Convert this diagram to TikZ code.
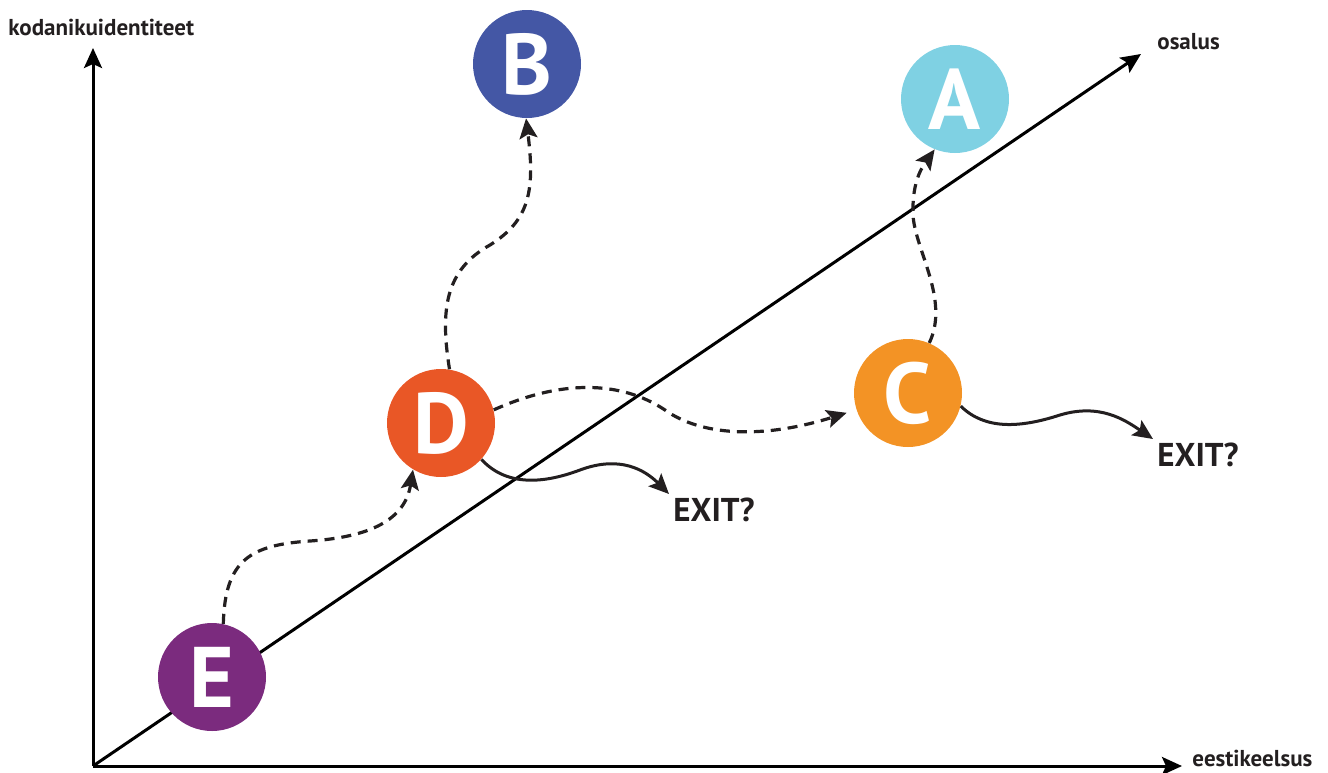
\documentclass[tikz,border=0pt]{standalone}
\usepackage{fontspec}
\setmainfont{PT Sans}
\usetikzlibrary{arrows.meta,calc}
\definecolor{colA}{HTML}{7FD1E3}
\definecolor{colB}{HTML}{4457A5}
\definecolor{colC}{HTML}{F39325}
\definecolor{colD}{HTML}{E95726}
\definecolor{colE}{HTML}{7B2B7E}
\definecolor{ink}{HTML}{231F20}
\begin{document}
\begin{tikzpicture}[x=0.5pt,y=-0.5pt,
  axis/.style={line width=1.5pt, draw=black, -{Stealth[length=10pt,width=9pt,inset=2pt]}},
  circ/.style={circle, minimum size=54pt, inner sep=0pt, text=white,
    font=\fontsize{43}{43}\selectfont\bfseries},
  axlabel/.style={anchor=base west, inner sep=0pt, text=ink,
    font=\fontsize{11.5}{13}\selectfont\bfseries},
  exitlabel/.style={anchor=north west, inner sep=2pt, text=ink,
    font=\fontsize{16.5}{18}\selectfont\bfseries},
  flowdash/.style={line width=1.6pt, draw=ink, dash pattern=on 5pt off 3.5pt,
    -{Stealth[length=10pt,width=9pt,inset=2pt]}},
  flowexit/.style={line width=1.5pt, draw=ink,
    -{Stealth[length=10pt,width=9pt,inset=2pt]}}]
\useasboundingbox (0,0) rectangle (1328,772);
% axes
\coordinate (O) at (93,766);
\coordinate (ytip) at (93,48);
\coordinate (xtip) at (1182,766);
\coordinate (dtip) at (1141,54);
\draw[axis] (O) -- (ytip);
\draw[axis] (O) -- (xtip);
\draw[axis] (O) -- (dtip);
\node[axlabel] (ylab) at (8,35) {kodanikuidentiteet};
\node[axlabel] (dlab) at (1157,49) {osalus};
\node[axlabel] (xlab) at (1192,766) {eestikeelsus};
% circles
\node[circ, fill=colB] (B) at (527,64) {B};
\node[circ, fill=colA] (A) at (955,99) {A};
\node[circ, fill=colD] (D) at (441,423) {D};
\node[circ, fill=colC] (C) at (908,393) {C};
\node[circ, fill=colE] (E) at (212,677) {E};
% exit labels
\node[exitlabel] (X1) at (669,494) {EXIT?};
\node[exitlabel] (X2) at (1153,439) {EXIT?};
% dashed flows
\draw[flowdash] (E.78) .. controls (225,560) and (250,545) .. (310,541)
  .. controls (370,537) and (405,520) .. (D.239);
\draw[flowdash] (D.81) .. controls (440,310) and (445,270) .. (490,245)
  .. controls (530,220) and (535,190) .. (B.269);
\draw[flowdash, shorten >=5pt] (D.14) .. controls (560,380) and (620,380) .. (665,410)
  .. controls (700,435) and (760,440) .. (C.198);
\draw[flowdash] (C.67) .. controls (950,300) and (915,250) .. (913,215)
  .. controls (912,185) and (920,170) .. (A.248);
% exit flows
\draw[flowexit] (D.-42) .. controls (505,485) and (540,485) .. (580,470)
  .. controls (620,455) and (645,470) .. (X1.north west);
\draw[flowexit] (C.-14) .. controls (985,430) and (1020,428) .. (1060,415)
  .. controls (1100,403) and (1125,420) .. (X2.north west);
\end{tikzpicture}
\end{document}
